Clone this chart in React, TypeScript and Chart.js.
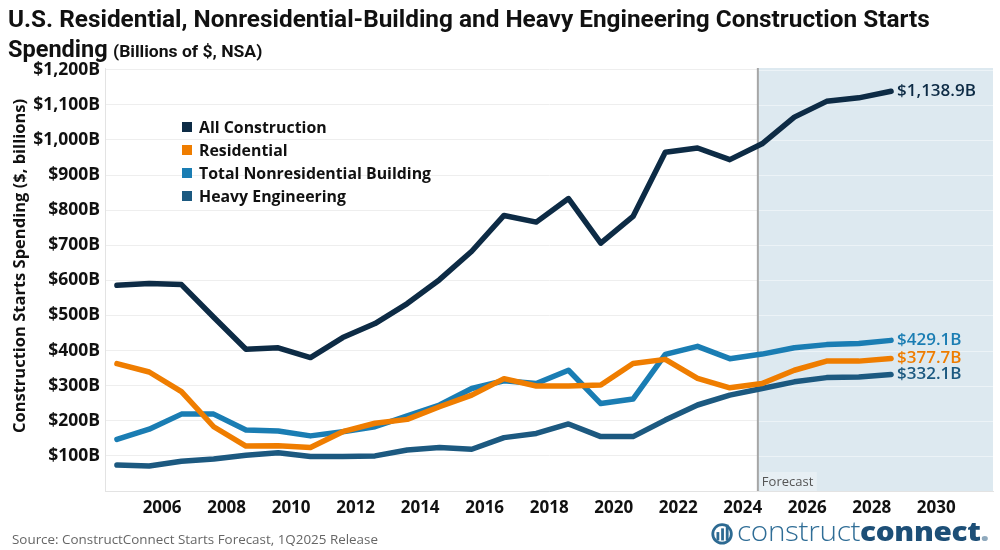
import React, { useEffect, useLayoutEffect, useRef, useState } from "react";
import { Chart, registerables } from "chart.js";

Chart.register(...registerables);

// ---------- data ----------
const YEARS = [
  2005, 2006, 2007, 2008, 2009, 2010, 2011, 2012, 2013, 2014, 2015, 2016, 2017,
  2018, 2019, 2020, 2021, 2022, 2023, 2024, 2025, 2026, 2027, 2028, 2029,
];
const ALL_CONSTRUCTION = [
  586, 591, 588, 495, 404, 408, 380, 437, 477, 534, 602, 683, 785, 766, 833,
  706, 782, 965, 977, 944, 989, 1065, 1110, 1120, 1138.9,
];
const RESIDENTIAL = [
  363, 339, 283, 183, 128, 129, 124, 169, 193, 204, 240, 273, 320, 299, 299,
  302, 363, 375, 321, 294, 306, 344, 370, 370, 377.7,
];
const NONRES_BUILDING = [
  147, 176, 219, 219, 174, 171, 157, 169, 183, 214, 245, 292, 314, 306, 344,
  249, 262, 389, 412, 377, 390, 408, 417, 420, 429.1,
];
const HEAVY_ENGINEERING = [
  74, 71, 85, 91, 102, 109, 98, 98, 100, 117, 124, 119, 152, 164, 191, 155,
  155, 202, 245, 273, 292, 311, 323, 325, 332.1,
];
const SERIES_NAMES = [
  "All Construction",
  "Residential",
  "Total Nonresidential Building",
  "Heavy Engineering",
];
const X_TICK_YEARS = [2006, 2008, 2010, 2012, 2014, 2016, 2018, 2020, 2022, 2024, 2026, 2028, 2030];
const Y_TICKS = [100, 200, 300, 400, 500, 600, 700, 800, 900, 1000, 1100, 1200];
const FORECAST_START = 2024.87;

// ---------- styles ----------
const COLORS = ["#0d2b45", "#ef7d00", "#1a7db3", "#1c5980"];
const FONT = '"Open Sans", "DejaVu Sans", sans-serif';
const X_MIN = 2004.63;
const X_MAX = 2032.16;
const TICK_SHIFT = 0.4;

function FitText({ target, style, children }: { target: number; style?: React.CSSProperties; children: React.ReactNode }) {
  const ref = useRef<HTMLSpanElement>(null);
  const [sx, setSx] = useState(1);
  useLayoutEffect(() => {
    const el = ref.current;
    if (!el) return;
    const w = el.offsetWidth;
    if (w > 0) setSx(target / w);
  }, [target]);
  return (
    <span
      ref={ref}
      style={{
        display: "inline-block",
        whiteSpace: "nowrap",
        transformOrigin: "left center",
        transform: `scaleX(${sx})`,
        ...style,
      }}
    >
      {children}
    </span>
  );
}

function Legend() {
  const refs = useRef<(HTMLSpanElement | null)[]>([]);
  const [sx, setSx] = useState(1);
  useLayoutEffect(() => {
    const widths = refs.current.map((r) => (r ? r.offsetWidth : 0));
    const m = Math.max(...widths);
    if (m > 0) setSx(232 / m);
  }, []);
  return (
    <div style={{ position: "absolute", left: 182, top: 115.5 }}>
      {SERIES_NAMES.map((n, i) => (
        <div key={n} style={{ height: 23, display: "flex", alignItems: "center" }}>
          <span style={{ width: 10, height: 10, background: COLORS[i], display: "inline-block", marginRight: 7 }} />
          <span
            ref={(el) => {
              refs.current[i] = el;
            }}
            style={{
              fontFamily: FONT,
              fontWeight: 700,
              fontSize: 16,
              color: "#111",
              whiteSpace: "nowrap",
              display: "inline-block",
              transformOrigin: "left center",
              transform: `scaleX(${sx})`,
            }}
          >
            {n}
          </span>
        </div>
      ))}
    </div>
  );
}

const overlayPlugin = {
  id: "overlay",
  beforeDatasetsDraw(chart: any) {
    const { ctx, chartArea, scales } = chart;
    const { top, bottom, right } = chartArea;
    const fx = scales.x.getPixelForValue(FORECAST_START);
    ctx.save();
    ctx.fillStyle = "#dde9f0";
    ctx.fillRect(fx, top, right - fx, bottom - top);
    ctx.strokeStyle = "rgba(255,255,255,0.45)";
    ctx.lineWidth = 1;
    for (const v of Y_TICKS) {
      const py = Math.round(scales.y.getPixelForValue(v)) + 0.5;
      ctx.beginPath();
      ctx.moveTo(fx, py);
      ctx.lineTo(right, py);
      ctx.stroke();
    }
    ctx.fillStyle = "#e7eff4";
    ctx.fillRect(fx + 2, bottom - 19, 57, 19);
    ctx.fillStyle = "#555";
    ctx.font = `13px ${FONT}`;
    ctx.textBaseline = "alphabetic";
    ctx.textAlign = "left";
    ctx.fillText("Forecast", fx + 4, bottom - 5);
    ctx.strokeStyle = "#a6a6a6";
    ctx.lineWidth = 2;
    ctx.beginPath();
    ctx.moveTo(fx, top);
    ctx.lineTo(fx, bottom);
    ctx.stroke();
    ctx.restore();
  },
  afterDatasetsDraw(chart: any) {
    const { ctx } = chart;
    ctx.save();
    ctx.font = `600 17px ${FONT}`;
    ctx.textBaseline = "middle";
    ctx.textAlign = "left";
    chart.data.datasets.forEach((ds: any, i: number) => {
      const meta = chart.getDatasetMeta(i);
      const pt = meta.data[meta.data.length - 1];
      const val = ds.data[ds.data.length - 1].y;
      ctx.fillStyle = ds.borderColor;
      ctx.fillText(
        "$" + val.toLocaleString("en-US", { minimumFractionDigits: 1, maximumFractionDigits: 1 }) + "B",
        pt.x + 6,
        pt.y
      );
    });
    ctx.restore();
  },
  afterDraw(chart: any) {
    const { ctx } = chart;
    ctx.save();
    ctx.translate(20, 266);
    ctx.rotate(-Math.PI / 2);
    ctx.font = `700 16.5px ${FONT}`;
    ctx.fillStyle = "#111";
    ctx.textAlign = "center";
    ctx.textBaseline = "middle";
    ctx.fillText("Construction Starts Spending ($, billions)", 0, 0);
    ctx.restore();
  },
};

export default function App() {
  const canvasRef = useRef<HTMLCanvasElement>(null);

  useEffect(() => {
    if (!canvasRef.current) return;
    const seriesValues = [ALL_CONSTRUCTION, RESIDENTIAL, NONRES_BUILDING, HEAVY_ENGINEERING];
    const chart = new Chart(canvasRef.current, {
      type: "line",
      data: {
        datasets: seriesValues.map((vals, i) => ({
          label: SERIES_NAMES[i],
          data: YEARS.map((yr, j) => ({ x: yr, y: vals[j] })),
          borderColor: COLORS[i],
          backgroundColor: COLORS[i],
          borderWidth: 5.5,
          pointRadius: 0,
          tension: 0,
          borderJoinStyle: "round",
          borderCapStyle: "round",
          fill: false,
        })),
      },
      options: {
        responsive: false,
        animation: false,
        devicePixelRatio: 1,
        layout: { padding: { left: 0, top: 68, right: 7, bottom: 0 } },
        plugins: { legend: { display: false }, tooltip: { enabled: false }, title: { display: false } },
        scales: {
          x: {
            type: "linear",
            min: X_MIN,
            max: X_MAX,
            grid: { display: false, drawTicks: false },
            border: { display: true, color: "#e3e3e3", width: 1 },
            afterBuildTicks: (s: any) => {
              s.ticks = X_TICK_YEARS.map((v) => ({ value: v + TICK_SHIFT }));
            },
            afterFit: (s: any) => {
              s.height = 59;
            },
            ticks: {
              autoSkip: false,
              maxRotation: 0,
              padding: 7,
              color: "#111",
              font: { family: FONT, weight: "bold", size: 17 },
              callback: (v: any) => String(Math.floor(Number(v))),
            },
          },
          y: {
            type: "linear",
            min: 0,
            max: 1205,
            afterBuildTicks: (s: any) => {
              s.ticks = Y_TICKS.map((v) => ({ value: v }));
            },
            afterFit: (s: any) => {
              s.width = 105;
            },
            grid: { color: "#eeeeee", drawTicks: false },
            border: { display: true, color: "#e3e3e3" },
            ticks: {
              padding: 5,
              color: "#111",
              font: { family: FONT, weight: "bold", size: 17.5 },
              callback: (v: any) => "$" + Number(v).toLocaleString("en-US") + "B",
            },
          },
        },
      },
      plugins: [overlayPlugin],
    } as any);
    return () => chart.destroy();
  }, []);

  return (
    <div
      style={{
        position: "absolute",
        left: 0,
        top: 0,
        width: 1000,
        height: 550,
        background: "#fff",
        overflow: "hidden",
        fontFamily: FONT,
      }}
    >
      <canvas ref={canvasRef} width={1000} height={550} style={{ position: "absolute", left: 0, top: 0, width: 1000, height: 550 }} />
      <div style={{ position: "absolute", left: 8, top: 4, lineHeight: "30px", height: 30 }}>
        <FitText target={922} style={{ fontFamily: "Roboto, " + FONT, fontWeight: 700, fontSize: 24, color: "#111" }}>
          U.S. Residential, Nonresidential-Building and Heavy Engineering Construction Starts
        </FitText>
      </div>
      <div style={{ position: "absolute", left: 8, top: 34, lineHeight: "30px", height: 30, whiteSpace: "nowrap" }}>
        <FitText target={100} style={{ fontFamily: "Roboto, " + FONT, fontWeight: 700, fontSize: 24, color: "#111" }}>
          Spending
        </FitText>
      </div>
      <div style={{ position: "absolute", left: 113, top: 36, lineHeight: "30px", height: 30, whiteSpace: "nowrap" }}>
        <FitText target={149} style={{ fontFamily: "Roboto, " + FONT, fontWeight: 700, fontSize: 16, color: "#111" }}>
          (Billions of $, NSA)
        </FitText>
      </div>
      <Legend />
      <div style={{ position: "absolute", left: 12, top: 528, lineHeight: "20px" }}>
        <FitText target={366} style={{ fontFamily: FONT, fontSize: 13, color: "#666" }}>
          Source: ConstructConnect Starts Forecast, 1Q2025 Release
        </FitText>
      </div>
      <div style={{ position: "absolute", left: 710, top: 519, width: 290, height: 30 }}>
        <svg width={26} height={26} viewBox="0 0 28 28" style={{ position: "absolute", left: 0, top: 1 }}>
          <circle cx={13} cy={15} r={10} fill="none" stroke="#2d6a92" strokeWidth={3} />
          <rect x={7} y={13} width={3} height={9} fill="#2d6a92" />
          <rect x={12} y={9} width={3} height={13} fill="#2d6a92" />
          <rect x={17} y={5} width={3} height={17} fill="#2d6a92" />
        </svg>
        <div style={{ position: "absolute", left: 27, top: -6, lineHeight: "36px" }}>
          <FitText target={252} style={{ fontFamily: FONT, fontSize: 27, letterSpacing: -0.3 }}>
            <span style={{ fontWeight: 300, color: "#2f6d96" }}>construct</span>
            <span style={{ fontWeight: 800, color: "#1d4f77" }}>connect</span>
            <span style={{ fontWeight: 800, color: "#8fa9bd" }}>.</span>
          </FitText>
        </div>
      </div>
    </div>
  );
}
